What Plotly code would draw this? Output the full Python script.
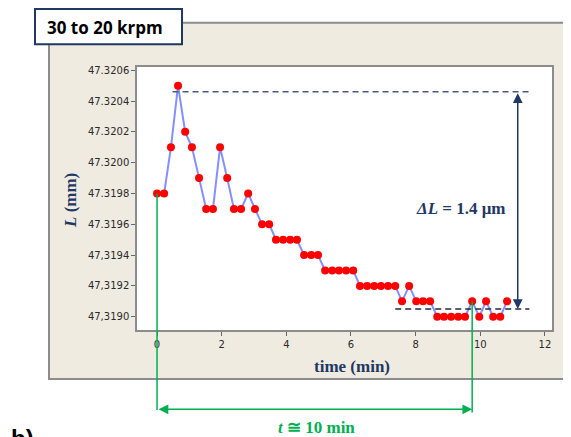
import plotly.graph_objects as go

# ---- data ----
time_min = [0.00, 0.22, 0.43, 0.65, 0.87, 1.08, 1.30, 1.52, 1.73, 1.95,
            2.17, 2.38, 2.60, 2.82, 3.03, 3.25, 3.47, 3.68, 3.90, 4.12,
            4.33, 4.55, 4.77, 4.98, 5.20, 5.42, 5.63, 5.85, 6.07, 6.28,
            6.50, 6.72, 6.93, 7.15, 7.37, 7.58, 7.80, 8.02, 8.23, 8.45,
            8.67, 8.88, 9.10, 9.32, 9.53, 9.75, 9.97, 10.18, 10.40, 10.62,
            10.83]
length_mm = [47.3198, 47.3198, 47.3201, 47.3205, 47.3202, 47.3201, 47.3199, 47.3197, 47.3197, 47.3201,
             47.3199, 47.3197, 47.3197, 47.3198, 47.3197, 47.3196, 47.3196, 47.3195, 47.3195, 47.3195,
             47.3195, 47.3194, 47.3194, 47.3194, 47.3193, 47.3193, 47.3193, 47.3193, 47.3193, 47.3192,
             47.3192, 47.3192, 47.3192, 47.3192, 47.3192, 47.3191, 47.3192, 47.3191, 47.3191, 47.3191,
             47.3190, 47.3190, 47.3190, 47.3190, 47.3190, 47.3191, 47.3190, 47.3191, 47.3190, 47.3190,
             47.3191]

y_tickvals = [47.3206, 47.3204, 47.3202, 47.3200, 47.3198, 47.3196, 47.3194, 47.3192, 47.3190]
y_ticktext = ["47.3206", "47.3204", "47.3202", "47.3200", "47.3198", "47.3196", "47,3194", "47,3192", "47,3190"]
x_tickvals = [0, 2, 4, 6, 8, 10, 12]

upper_level = 47.32046
lower_level = 47.31905
delta_x = 11.16
settle_idx = 45

XR = [-0.62, 12.22]
YR = [47.318914, 47.320621]

# page body has an 8px margin: lay out in reference pixels, shifted by OFF
OFF = 8
W, H = 571 - OFF, 437 - OFF
PL, PR, PT, PB = 137, 552, 67, 330          # plot area in reference pixels
ML, MR, MT, MB = PL - OFF, W - (PR - OFF), PT - OFF, H - (PB - OFF)
PW, PH = W - ML - MR, H - MT - MB

def px(x):
    return (x - PL) / PW

def py(y):
    return (PB - y) / PH

def ypaper(v):
    return (v - YR[0]) / (YR[1] - YR[0])

NAVY = "#1F3864"
GREEN = "#00B050"

fig = go.Figure()
fig.add_trace(go.Scatter(
    x=time_min, y=length_mm, mode="lines+markers",
    line=dict(color="rgba(110,125,255,0.85)", width=2),
    marker=dict(color="#FF0000", size=8),
    showlegend=False, hoverinfo="skip"))

shapes = [
    dict(type="rect", xref="paper", yref="paper", x0=px(49), x1=px(590), y0=py(379), y1=py(22.7),
         fillcolor="#EFEBE1", line=dict(color="#8C8C8C", width=2), layer="below"),
    dict(type="rect", xref="paper", yref="paper", x0=0, x1=1, y0=0, y1=1,
         fillcolor="white", line=dict(width=0), layer="below"),
    dict(type="line", xref="x", yref="y", x0=0.48, x1=11.54, y0=upper_level, y1=upper_level,
         line=dict(color="#4A5A78", width=1.5, dash="6px,4px")),
    dict(type="line", xref="x", yref="y", x0=7.37, x1=11.52, y0=lower_level, y1=lower_level,
         line=dict(color="#222A3A", width=1.5, dash="6px,4px")),
    dict(type="line", xref="x", yref="paper", x0=time_min[0], x1=time_min[0],
         y0=ypaper(length_mm[0]), y1=py(410), line=dict(color=GREEN, width=1.5)),
    dict(type="line", xref="x", yref="paper", x0=time_min[settle_idx], x1=time_min[settle_idx],
         y0=ypaper(length_mm[settle_idx]), y1=py(412.5), line=dict(color=GREEN, width=1.5)),
    dict(type="rect", xref="paper", yref="paper", x0=px(35), x1=px(182), y0=py(44.3), y1=py(9),
         fillcolor="white", line=dict(color=NAVY, width=2), layer="above"),
]

annotations = [
    dict(text="<b>30 to 20 krpm</b>", xref="paper", yref="paper", x=px(45), y=py(27),
         xanchor="left", yanchor="middle", showarrow=False,
         font=dict(family="Open Sans", size=17, color="black")),
    dict(text="<b>time (min)</b>", xref="paper", yref="paper", x=px(352), y=py(366),
         xanchor="center", yanchor="middle", showarrow=False,
         font=dict(family="Liberation Serif", size=17, color=NAVY)),
    dict(text="<b><i>L</i> (mm)</b>", xref="paper", yref="paper", x=px(70), y=py(201),
         xanchor="center", yanchor="middle", showarrow=False, textangle=-90,
         font=dict(family="Liberation Serif", size=17, color=NAVY)),
    dict(text="<b><i>ΔL</i> = 1.4 μm</b>", xref="paper", yref="paper", x=px(461), y=py(208),
         xanchor="center", yanchor="middle", showarrow=False,
         font=dict(family="Liberation Serif", size=17, color=NAVY)),
    dict(text="<b><i>t</i> ≅ 10 min</b>", xref="paper", yref="paper", x=px(316), y=py(427.5),
         xanchor="center", yanchor="middle", showarrow=False,
         font=dict(family="Liberation Serif", size=17, color=GREEN)),
    dict(text="<b>b)</b>", xref="paper", yref="paper", x=px(9), y=py(423),
         xanchor="left", yanchor="top", showarrow=False,
         font=dict(family="Liberation Sans", size=24, color="black")),
    dict(text="", xref="x", yref="y", x=delta_x, y=lower_level,
         axref="x", ayref="y", ax=delta_x, ay=upper_level,
         showarrow=True, arrowside="end+start", arrowhead=2, arrowsize=1.3,
         arrowwidth=1.5, arrowcolor=NAVY, standoff=0, startstandoff=0),
    dict(text="", xref="x", yref="paper", x=time_min[settle_idx], y=py(409.3),
         axref="x", ayref="pixel", ax=time_min[0], ay=0,
         showarrow=True, arrowside="end+start", arrowhead=2, arrowsize=1.3,
         arrowwidth=1.5, arrowcolor=GREEN, standoff=0, startstandoff=0),
]

fig.update_layout(
    width=W, height=H,
    margin=dict(l=ML, r=MR, t=MT, b=MB, pad=0),
    paper_bgcolor="white", plot_bgcolor="white",
    shapes=shapes, annotations=annotations,
    xaxis=dict(range=XR, tickvals=x_tickvals, ticks="outside", ticklen=4, tickcolor="#666",
               showgrid=False, zeroline=False, showline=True, mirror=True,
               linecolor="#8C8C8C", linewidth=1.5,
               tickfont=dict(family="DejaVu Sans", size=10, color="#2A2A2A")),
    yaxis=dict(range=YR, tickvals=y_tickvals, ticktext=y_ticktext, ticks="outside", ticklen=4,
               tickcolor="#666", showgrid=False, zeroline=False, showline=True, mirror=True,
               linecolor="#8C8C8C", linewidth=1.5,
               tickfont=dict(family="DejaVu Sans", size=10, color="#2A2A2A")),
)

fig.write_html("out.html")
